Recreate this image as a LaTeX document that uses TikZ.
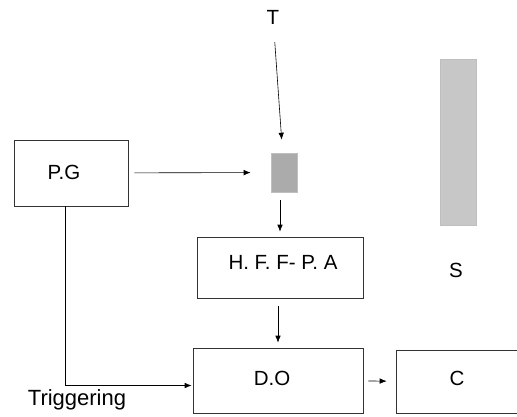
\documentclass[tikz,border=0pt]{standalone}
\usepackage{fontspec}
\setmainfont{Liberation Sans}
\usetikzlibrary{arrows.meta}
\begin{document}
\begin{tikzpicture}[x=1pt,y=-1pt,>={Latex[length=7pt,width=5.5pt]},line width=0.6pt,
  box/.style={draw=black!80,inner sep=0pt},
  bar/.style={draw=black!25,inner sep=0pt}]
\fontsize{20.5}{22}\selectfont
\useasboundingbox (0,0) rectangle (517,416);
\node[box,minimum width=114pt,minimum height=66pt,label={[xshift=-7pt,yshift=1pt]center:P.G}] (PG) at (71,173) {};
\node[bar,fill=black!33,minimum width=26pt,minimum height=39pt] (small) at (284,172.5) {};
\node[bar,fill=black!22,minimum width=36pt,minimum height=166pt] (S) at (458,142) {};
\node (T) at (273,17) {T};
\node at (456,270) {S};
\node[box,minimum width=166pt,minimum height=61pt,label={[xshift=3pt,yshift=5pt]center:H. F. F- P. A}] (HF) at (280,267.5) {};
\node[box,minimum width=170pt,minimum height=65pt,label={[xshift=-6pt,yshift=2pt]center:D.O}] (DO) at (278,380.5) {};
\node[box,minimum width=126pt,minimum height=63pt,label={[xshift=-2pt,yshift=3pt]center:C}] (C) at (459,381.5) {};
\node (trig) at (77,400) {\fontsize{22}{24}\selectfont Triggering};
\draw [->, shorten <=6pt, shorten >=20pt] (PG) -- (small);
\draw [->, shorten <=11pt, shorten >=13pt] (T) -- (small);
\draw [->, shorten <=8pt, shorten >=5pt] (HF.north |- small.south) -- (HF.north);
\draw [->, shorten <=8pt, shorten >=5pt] (DO.north |- HF.south) -- (DO.north);
\draw [->, shorten <=5pt, shorten >=9pt] (DO) -- (C);
\draw [->, shorten >=1pt] ([xshift=-6pt]PG.south) |- ([yshift=-5pt]DO.west);
\end{tikzpicture}
\end{document}
